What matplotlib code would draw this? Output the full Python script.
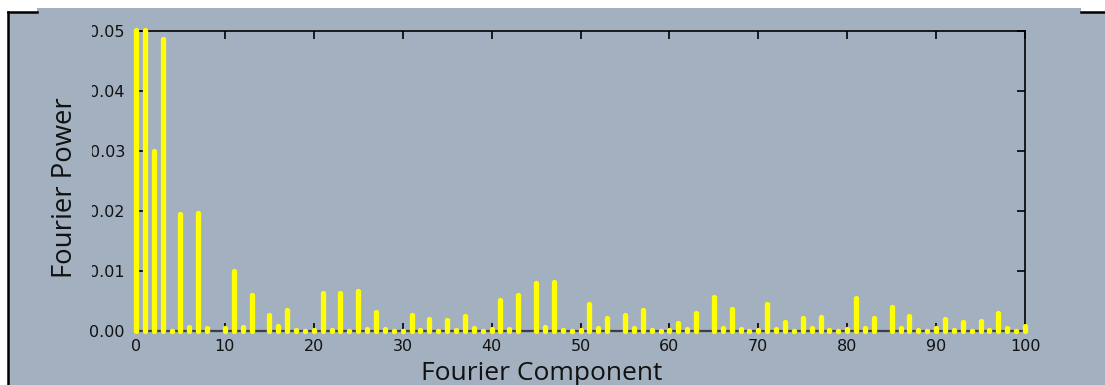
import numpy as np
import matplotlib
matplotlib.use('Agg')
import matplotlib.pyplot as plt
from matplotlib.patches import Rectangle
from matplotlib.lines import Line2D
from matplotlib.transforms import Bbox

nan = np.nan

# Fourier power per component (missing components are not drawn)
component = np.arange(0, 101)
power = [0.0502, 0.0502, 0.0300, 0.0486, 0.0000, 0.0194, 0.0007, 0.0197, 0.0005, nan,
         0.0005, 0.0099, 0.0007, 0.0060, nan, 0.0026, 0.0008, 0.0035, 0.0001, 0.0000,
         0.0002, 0.0063, 0.0002, 0.0063, 0.0000, 0.0067, 0.0003, 0.0032, 0.0003, 0.0000,
         0.0000, 0.0027, 0.0001, 0.0019, 0.0000, 0.0018, 0.0001, 0.0024, 0.0004, 0.0000,
         0.0003, 0.0052, 0.0003, 0.0060, nan, 0.0080, 0.0007, 0.0081, 0.0001, 0.0000,
         0.0001, 0.0044, 0.0004, 0.0021, nan, 0.0027, 0.0004, 0.0034, 0.0001, 0.0000,
         0.0001, 0.0013, 0.0003, 0.0030, nan, 0.0057, 0.0004, 0.0036, 0.0003, 0.0000,
         0.0001, 0.0044, 0.0003, 0.0014, 0.0000, 0.0021, 0.0004, 0.0023, 0.0001, 0.0000,
         0.0003, 0.0054, 0.0004, 0.0021, nan, 0.0040, 0.0004, 0.0025, 0.0001, 0.0000,
         0.0004, 0.0019, 0.0001, 0.0015, 0.0000, 0.0017, 0.0001, 0.0029, 0.0004, 0.0000,
         0.0008]
power = np.array(power)

xticks = np.arange(0, 101, 10)
yticks = [0.00, 0.01, 0.02, 0.03, 0.04, 0.05]

bg = '#A2B0BF'
W, H = 1105, 385

fig = plt.figure(figsize=(W / 100, H / 100), dpi=100, facecolor='white')

# panel background and the black frame pieces
def px(x, y):
    return x / W, 1 - y / H

fig.patches.append(Rectangle(px(8, H), (W - 8) / W, (H - 12) / H, transform=fig.transFigure,
                             facecolor=bg, edgecolor='none', zorder=-5))
fig.patches.append(Rectangle(px(37, 13), (1081 - 37) / W, 5 / H, transform=fig.transFigure,
                             facecolor=bg, edgecolor='none', zorder=-5))
fig.lines.append(Line2D([8 / W, 8 / W], [1 - 12 / H, 0], transform=fig.transFigure,
                        color='black', lw=1.8, zorder=-4))
fig.lines.append(Line2D([8 / W, 37 / W], [1 - 12 / H, 1 - 12 / H], transform=fig.transFigure,
                        color='black', lw=1.8, zorder=-4))
fig.lines.append(Line2D([1081 / W, 1], [1 - 12 / H, 1 - 12 / H], transform=fig.transFigure,
                        color='black', lw=1.8, zorder=-4))

ax = fig.add_axes([136 / W, 1 - 330.7 / H, 889 / W, 300 / H])
ax.set_facecolor('none')

ok = np.isfinite(power)
x = component[ok]
y = power[ok]
lw = 3.8
ax.vlines(x, 0, y, colors='#FFFF00', linewidth=lw, zorder=5, clip_on=False)
# rounded ends of the bars
ax.scatter(x, np.zeros_like(y), s=lw ** 2, color='#FFFF00', linewidths=0,
           zorder=5, clip_on=False)
ax.scatter(x, y, s=lw ** 2, color='#FFFF00', linewidths=0, zorder=5, clip_on=False)

ax.set_xlim(0, 100)
ax.set_ylim(0, 0.05)
ax.set_xticks(xticks)
ax.set_yticks(yticks)
ax.set_yticklabels(['%.2f' % v for v in yticks])

for s in ['top', 'right', 'left']:
    ax.spines[s].set_color('black')
    ax.spines[s].set_linewidth(1.2)
ax.spines['bottom'].set_color('#3a3f48')
ax.spines['bottom'].set_linewidth(1.6)

ax.tick_params(direction='in', length=6, width=1.2, color='black',
               top=True, right=True, labelsize=11.5, labelcolor='#111111', pad=6)
ax.tick_params(axis='y', pad=8)

for lab in ax.get_xticklabels() + ax.get_yticklabels():
    lab.set_fontfamily('DejaVu Sans')

ax.set_xlabel('Fourier Component', fontsize=19, family='Open Sans', color='#111111', va='center')
ax.set_ylabel('Fourier Power', fontsize=19.8, family='Open Sans', color='#111111', va='center')
ax.xaxis.set_label_coords(0.456, -0.141)
ax.yaxis.set_label_coords(-0.08, 0.477)

# the leading zero of the upper y labels is cut off in the original
clip = Bbox.from_extents(92, 0, W, H)
for lab in ax.get_yticklabels()[1:]:
    lab.set_clip_box(clip)
    lab.set_clip_on(True)

fig.savefig('out.png', dpi=100, facecolor='white')
